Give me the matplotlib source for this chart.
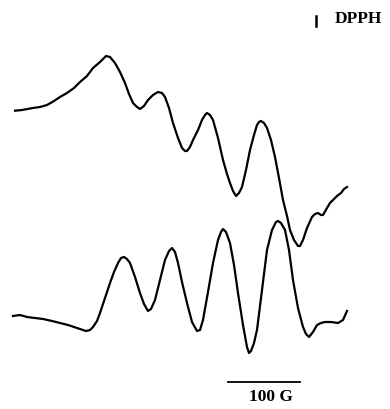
import matplotlib
matplotlib.use("Agg")
import matplotlib.pyplot as plt

# Upper spectrum (field position, signal)
top_field = [15, 22, 33, 40, 47, 54, 60, 67, 74, 80, 87, 93, 100, 106, 110, 115, 120, 125, 129, 133, 137, 140,
             144, 148, 153, 158, 162, 165, 169, 173, 178, 182, 185, 187, 190, 193, 198, 202, 205, 207, 210,
             213, 218, 223, 227, 230, 233, 236, 239, 242, 246, 250, 254, 257, 259, 261, 264, 267, 271, 275,
             279, 283, 287, 290, 294, 298, 300, 303, 307, 312, 315, 318, 321, 323, 327, 330, 333, 337, 341, 344, 347]
top_signal = [110.7, 110, 108, 107, 105, 101, 97, 93, 88, 82, 76, 68, 62, 56, 57, 63, 72, 83, 94, 103, 107, 109,
              106, 100, 95, 92, 93, 97, 108, 123, 138, 148, 151, 151, 147, 140, 130, 120, 115, 113, 115,
              120, 138, 160, 174, 183, 191, 196, 193, 187, 170, 150, 135, 125, 122, 121, 123, 128, 140, 157,
              178, 200, 216, 230, 240, 246, 246, 240, 228, 217, 214, 213, 215, 215, 208, 203, 200, 196, 193, 189, 187]

# Lower spectrum
bot_field = [13, 20, 27, 35, 43, 52, 60, 68, 77, 83, 86, 90, 93, 97, 100, 105, 110, 114, 118, 121, 124, 127, 130,
             135, 140, 144, 148, 151, 155, 160, 165, 169, 172, 175, 178, 182, 187, 192, 197, 200, 203, 208,
             213, 218, 221, 223, 226, 230, 234, 238, 243, 247, 249, 251, 254, 257, 262, 267, 272, 276, 278,
             281, 285, 289, 293, 298, 303, 306, 309, 313, 317, 321, 325, 331, 338, 343, 347]
bot_signal = [316, 315, 317, 318, 319, 321, 323, 325, 328, 330, 331, 330, 327, 321, 313, 298, 283, 272, 263, 258, 257, 259, 263,
              277, 293, 304, 311, 309, 300, 280, 260, 251, 248, 252, 263, 282, 303, 322, 331, 330, 320, 292,
              263, 240, 232, 229, 232, 243, 265, 293, 325, 347, 353, 351, 343, 330, 290, 250, 230, 222, 221,
              223, 230, 250, 280, 308, 327, 334, 337, 332, 325, 323, 322, 322, 323, 320, 311]

dpph_field = 316
scale_start, scale_end = 228, 300   # 100 G

fig = plt.figure(figsize=(3.90, 4.09), dpi=100)
ax = fig.add_axes([0, 0, 1, 1])
ax.set_xlim(0, 390)
ax.set_ylim(409, 0)
ax.axis("off")

ax.plot(top_field, top_signal, color="black", lw=1.6, solid_joinstyle="round")
ax.plot(bot_field, bot_signal, color="black", lw=1.6, solid_joinstyle="round")

# DPPH marker
ax.plot([dpph_field, dpph_field], [16, 26], color="black", lw=1.8)
ax.text(335, 19, "DPPH", fontsize=12.5, fontweight="bold", family="Liberation Serif",
        ha="left", va="center")

# scale bar
ax.plot([scale_start, scale_end], [382, 382], color="black", lw=1.3)
ax.text((scale_start + scale_end) / 2 + 7, 397, "100 G", fontsize=12.5, fontweight="bold",
        family="Liberation Serif", ha="center", va="center")

fig.savefig("out.png", dpi=100)
